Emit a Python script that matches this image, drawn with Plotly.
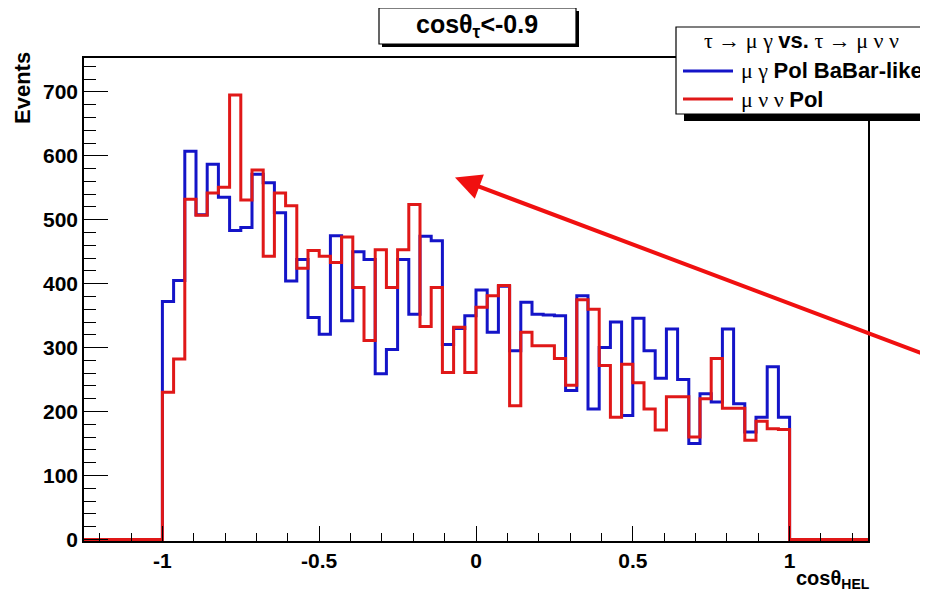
import numpy as np
import plotly.graph_objects as go

# ---------------- data ----------------
x_lo, x_hi = -1.0, 1.0          # histogram filled range
axis_lo, axis_hi = -1.25, 1.25  # axis range
n_bins = 56

blue_counts = [372, 405, 607, 508, 587, 535, 483, 488, 571, 558,
               511, 404, 438, 347, 321, 475, 342, 450, 438, 259,
               297, 438, 352, 474, 467, 305, 330, 350, 390, 324,
               396, 295, 371, 352, 351, 350, 233, 381, 204, 300,
               340, 194, 346, 295, 252, 329, 250, 150, 228, 215,
               329, 212, 168, 191, 270, 191]
red_counts = [230, 282, 532, 507, 542, 551, 695, 531, 578, 443,
              542, 522, 424, 452, 443, 433, 473, 394, 311, 453,
              394, 453, 524, 333, 394, 261, 332, 261, 363, 381,
              397, 209, 324, 303, 303, 283, 241, 375, 360, 272,
              191, 274, 245, 204, 171, 223, 223, 160, 220, 283,
              205, 205, 155, 185, 173, 172]

y_ticks = [0, 100, 200, 300, 400, 500, 600, 700]
x_ticks = [-1, -0.5, 0, 0.5, 1]
x_tick_labels = ["-1", "-0.5", "0", "0.5", "1"]

title_text = "cosθ<sub>τ</sub><-0.9"
y_title = "Events"
x_title = "cosθ<sub>HEL</sub>"

BLUE = "#1414c8"
RED = "#e01818"
SANS = "Liberation Sans"
SERIF = "Liberation Serif"

legend_header = (f"τ → μ γ <span style='font-family:{SANS}'><b>vs.</b></span> τ → μ ν ν")
blue_label = f"μ γ <span style='font-family:{SANS}'><b>Pol BaBar-like</b></span>"
red_label = f"μ ν ν <span style='font-family:{SANS}'><b>Pol</b></span>"

edges = np.linspace(x_lo, x_hi, n_bins + 1)


def step_xy(counts):
    xs = [axis_lo] + list(edges) + [axis_hi]
    ys = [0] + list(counts) + [0, 0]
    return xs, ys


fig = go.Figure()
bx, by = step_xy(blue_counts)
rx, ry = step_xy(red_counts)
fig.add_trace(go.Scatter(x=bx, y=by, mode="lines", line=dict(shape="hv", color=BLUE, width=3),
                         showlegend=False, hoverinfo="skip"))
fig.add_trace(go.Scatter(x=rx, y=ry, mode="lines", line=dict(shape="hv", color=RED, width=3),
                         showlegend=False, hoverinfo="skip"))

# the page body adds an 8px offset; target frame in page pixels
OFF = 8
L, R, T, B = 84, 868, 58, 541
W, H = 928 - OFF, 592 - OFF


def px(xp):
    return (xp - L) / (R - L)


def py(yp):
    return (B - yp) / (B - T)


tickfont = dict(family=SANS, size=21, color="black", weight="bold")
fig.update_layout(
    width=W, height=H,
    margin=dict(l=L - OFF, r=W - (R - OFF), t=T - OFF, b=H - (B - OFF), pad=0),
    paper_bgcolor="white", plot_bgcolor="white",
    xaxis=dict(range=[axis_lo, axis_hi], showgrid=False, zeroline=False,
               showline=True, linecolor="black", linewidth=1.5, mirror=True,
               ticks="inside", ticklen=15, tickwidth=1.2, tickcolor="black",
               tickfont=tickfont, tickvals=x_ticks, ticktext=x_tick_labels,
               minor=dict(ticks="inside", ticklen=8, tickwidth=1.2, tickcolor="black",
                          tick0=0, dtick=0.1, showgrid=False)),
    yaxis=dict(range=[-2.5, 753], showgrid=False, zeroline=False,
               showline=True, linecolor="black", linewidth=1.5, mirror=True,
               ticks="inside", ticklen=24, tickwidth=1.2, tickcolor="black",
               tickvals=y_ticks, tickfont=tickfont,
               minor=dict(ticks="inside", ticklen=12, tickwidth=1.2, tickcolor="black",
                          tick0=0, dtick=20, showgrid=False)),
)

shapes = []
# title box with shadow
shapes.append(dict(type="rect", xref="paper", yref="paper", x0=px(382), x1=px(579), y0=py(47), y1=py(11),
                   fillcolor="black", line=dict(width=0), layer="above"))
shapes.append(dict(type="rect", xref="paper", yref="paper", x0=px(379), x1=px(576), y0=py(44), y1=py(8),
                   fillcolor="white", line=dict(color="black", width=1.2), layer="above"))
# legend box with shadow
shapes.append(dict(type="rect", xref="paper", yref="paper", x0=px(684), x1=px(945), y0=py(121), y1=py(35),
                   fillcolor="black", line=dict(width=0), layer="above"))
shapes.append(dict(type="rect", xref="paper", yref="paper", x0=px(676), x1=px(945), y0=py(114), y1=py(27),
                   fillcolor="white", line=dict(color="black", width=1.2), layer="above"))
# legend samples
shapes.append(dict(type="line", xref="paper", yref="paper", x0=px(683), x1=px(733), y0=py(71), y1=py(71),
                   line=dict(color=BLUE, width=3), layer="above"))
shapes.append(dict(type="line", xref="paper", yref="paper", x0=px(683), x1=px(733), y0=py(99), y1=py(99),
                   line=dict(color=RED, width=3), layer="above"))
fig.update_layout(shapes=shapes)

ann = []
ann.append(dict(xref="paper", yref="paper", x=px(477), y=py(26), text=f"<b>{title_text}</b>",
                showarrow=False, xanchor="center", yanchor="middle",
                font=dict(family=SANS, size=25, color="black")))
ann.append(dict(xref="paper", yref="paper", x=px(801), y=py(41), text=legend_header,
                showarrow=False, xanchor="center", yanchor="middle",
                font=dict(family=SERIF, size=22, color="black")))
ann.append(dict(xref="paper", yref="paper", x=px(739), y=py(71), text=blue_label,
                showarrow=False, xanchor="left", yanchor="middle",
                font=dict(family=SERIF, size=22, color="black")))
ann.append(dict(xref="paper", yref="paper", x=px(739), y=py(99), text=red_label,
                showarrow=False, xanchor="left", yanchor="middle",
                font=dict(family=SERIF, size=22, color="black")))
ann.append(dict(xref="paper", yref="paper", x=px(22), y=py(88), text=f"<b>{y_title}</b>",
                textangle=-90, showarrow=False, xanchor="center", yanchor="middle",
                font=dict(family=SANS, size=22, color="black")))
ann.append(dict(xref="paper", yref="paper", x=px(872), y=py(579), text=f"<b>{x_title}</b>",
                showarrow=False, xanchor="right", yanchor="middle",
                font=dict(family=SANS, size=20, color="black")))
# red arrow
ann.append(dict(xref="x", yref="y", x=-0.067, y=566, ax=485, ay=178, axref="pixel", ayref="pixel",
                text="", showarrow=True, arrowhead=2, arrowsize=1.3, arrowwidth=4, arrowcolor="#f01010"))
fig.update_layout(annotations=ann)

fig.write_html("out.html")
